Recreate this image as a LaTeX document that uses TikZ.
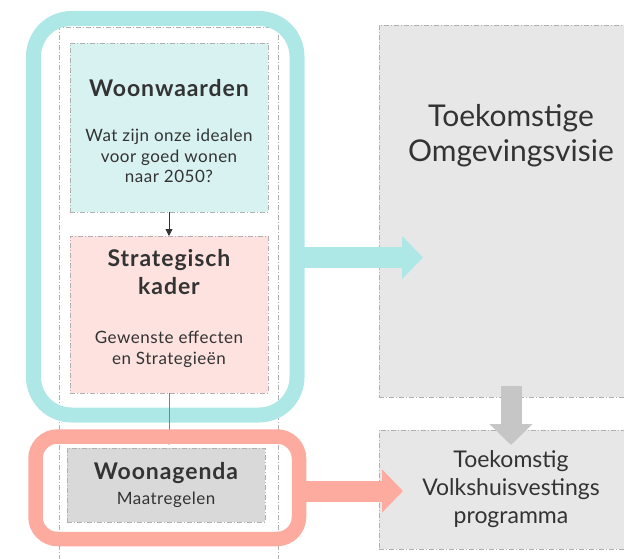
\documentclass[tikz,border=0pt]{standalone}
\usepackage{fontspec}
\setmainfont{Lato}
\usetikzlibrary{arrows.meta}
\definecolor{tealS}{HTML}{AEE8E6}
\definecolor{tealF}{HTML}{D8F2F2}
\definecolor{pinkF}{HTML}{FDE2DF}
\definecolor{salmon}{HTML}{FDAB9E}
\definecolor{agendaF}{HTML}{D9D9D9}
\definecolor{boxF}{HTML}{E7E7E7}
\definecolor{arrG}{HTML}{C6C6C6}
\definecolor{dashG}{HTML}{B0B0B0}
\definecolor{txt}{HTML}{333333}
\newcommand{\ttlfont}{\fontsize{23}{28}\bfseries\selectfont\addfontfeature{LetterSpace=4}}
\newcommand{\bodyfont}{\fontsize{17}{20.5}\selectfont\addfontfeature{LetterSpace=3}}
\tikzset{
  dd/.style={draw=dashG, line width=0.8pt, dash pattern=on 5pt off 2pt on 1pt off 2pt},
  stepbox/.style={dd, inner sep=0pt, outer sep=0pt, align=center, text=txt, minimum width=198pt},
  frame/.style={rounded corners=#1, outer sep=0pt, inner sep=0pt},
  smallarr/.style={draw=#1, line width=0.9pt, -{Triangle[length=7pt,width=7pt]}},
  bigarr/.style={draw=#1, line width=21pt, -{Triangle[length=21pt,width=42pt]}},
}
\begin{document}
\begin{tikzpicture}[x=1pt,y=-1pt]
\useasboundingbox (0,0) rectangle (624,559);
\clip (0,0) rectangle (624,559);
% column lane
\draw[dd] (59,570) -- (59,27) -- (278,27) -- (278,570);
% right boxes
\node[stepbox, fill=boxF, minimum width=264pt, minimum height=372pt] (omg) at (511,211) {};
\node[text=txt, font=\fontsize{30}{35}\selectfont, align=center] (omgt) at (511,136) {Toekomstige\\Omgevingsvisie};
\node[stepbox, fill=boxF, minimum width=264pt, minimum height=119pt,
      font=\fontsize{23}{28}\selectfont] (vhp) at (511,489.5) {Toekomstig\\Volkshuisvestings\\programma};
% left boxes
\node[stepbox, fill=tealF, minimum height=169pt] (ww) at (169,127.5) {};
\node[text=txt, font=\ttlfont] (wwt) at (169,88) {Woonwaarden};
\node[text=txt, font=\bodyfont, align=center] (wwb) at (169,156) {Wat zijn onze idealen\\voor goed wonen\\naar 2050?};
\node[stepbox, fill=pinkF, minimum height=157pt] (sk) at (169,314.5) {};
\node[text=txt, font=\ttlfont, align=center] (skt) at (169,272) {Strategisch\\kader};
\node[text=txt, font=\fontsize{17}{21}\selectfont\addfontfeature{LetterSpace=3}, align=center] (skb) at (169,349.5) {Gewenste effecten\\en Strategieën};
\node[stepbox, fill=agendaF, minimum height=74pt] (wa) at (166,485) {};
\node[text=txt, font=\ttlfont] (wat) at (166,473) {Woonagenda};
\node[text=txt, font=\bodyfont] (wab) at (166,500) {Maatregelen};
% teal frame
\node[frame=38pt, draw=tealS, line width=15pt, minimum width=263.5pt, minimum height=396.5pt] (tf) at (165.25,216.75) {};
% small arrows
\draw[smallarr=txt] (ww.south) -- (sk.north);
\coordinate (wat-in) at ([yshift=3pt]sk.south |- wa.north);
\draw[smallarr=gray] (sk.south) -- (wat-in);
% salmon frame
\node[frame=22pt, draw=salmon, line width=14.5pt, minimum width=263.5pt, minimum height=102.5pt] (sf) at (167.25,487.75) {};
% big arrows
\coordinate (tt) at (423,257.5);
\draw[bigarr=tealS] (tf.east |- tt) -- (tt);
\coordinate (st) at (403,491);
\draw[bigarr=salmon] (sf.east |- st) -- (st);
\coordinate (gs) at ([yshift=11pt]omg.south);
\coordinate (gt) at (511,445);
\draw[bigarr=arrG] (gs) -- (gt);
\end{tikzpicture}
\end{document}
